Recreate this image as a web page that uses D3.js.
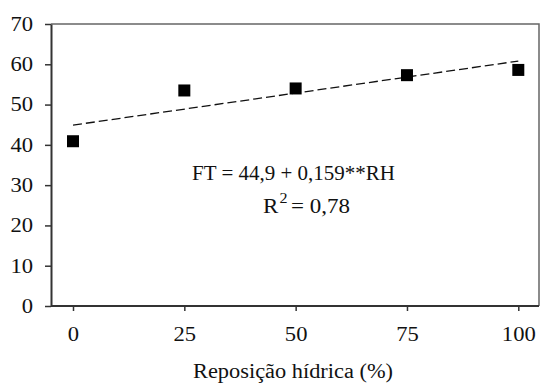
<!DOCTYPE html>
<html>
<head>
<meta charset="utf-8">
<script src="https://cdn.jsdelivr.net/npm/d3@7"></script>
<style>
  body { margin: 0; background: #fff; }
  svg text { font-family: "Liberation Serif", "Times New Roman", serif; fill: #111; }
</style>
</head>
<body>
<div id="chart"></div>
<script>
// reposição hídrica (%) and measured FT values
const rh = [0, 25, 50, 75, 100];
const ft = [40.9, 53.5, 54.0, 57.3, 58.6];
const xTicks = [0, 25, 50, 75, 100];
const yTicks = [0, 10, 20, 30, 40, 50, 60, 70];
// fitted line FT = 44.9 + 0.159*RH
const fitA = 44.9;
const fitB = 0.159;

const W = 540, H = 383;
const svg = d3.select('#chart').append('svg')
  .attr('width', W)
  .attr('height', H);

const x = d3.scaleLinear().domain([0, 100]).range([73, 518.3]);
const y = d3.scaleLinear().domain([0, 70]).range([306, 24]);

// the original text is a bit wide, stretch it horizontally
const digitW = 11.3;
function stretch(sel) {
  sel.attr('textLength', d => String(d).length * digitW)
    .attr('lengthAdjust', 'spacingAndGlyphs');
}

// frame (top and right, thin gray)
svg.append('path')
  .attr('d', `M51,${y(70)}H539V${y(0)}`)
  .attr('fill', 'none')
  .attr('stroke', '#666')
  .attr('stroke-width', 1.5);

// y axis
const yAxis = svg.append('g')
  .attr('transform', 'translate(51,0)')
  .call(d3.axisLeft(y).tickValues(yTicks).tickSize(6).tickPadding(12).tickSizeOuter(0));
yAxis.select('.domain').attr('stroke', '#333').attr('stroke-width', 2);
yAxis.selectAll('.tick line').attr('stroke', '#333').attr('stroke-width', 1.5);
yAxis.selectAll('text').style('font-size', '20px').attr('fill', '#111').call(stretch);

// x axis
const xAxis = svg.append('g')
  .attr('transform', `translate(0,${y(0)})`)
  .call(d3.axisBottom(x).tickValues(xTicks).tickSize(5).tickPadding(16).tickSizeOuter(0));
xAxis.select('.domain').attr('d', `M51,0H539`).attr('stroke', '#333').attr('stroke-width', 2);
xAxis.selectAll('.tick line').attr('stroke', '#333').attr('stroke-width', 1.5);
xAxis.selectAll('text').style('font-size', '20px').attr('fill', '#111').call(stretch);

// trend line
svg.append('line')
  .attr('x1', x(0)).attr('y1', y(fitA))
  .attr('x2', x(100)).attr('y2', y(fitA + fitB * 100))
  .attr('stroke', '#111')
  .attr('stroke-width', 1.3)
  .attr('stroke-dasharray', '9,4');

// markers
const s = 12;
svg.selectAll('.pt')
  .data(rh.map((d, i) => [d, ft[i]]))
  .enter().append('rect')
  .attr('class', 'pt')
  .attr('x', d => x(d[0]) - s / 2)
  .attr('y', d => y(d[1]) - s / 2)
  .attr('width', s)
  .attr('height', s)
  .attr('fill', '#000');

// equation
svg.append('text')
  .attr('x', 192).attr('y', 180)
  .style('font-size', '20px')
  .attr('textLength', 203)
  .attr('lengthAdjust', 'spacingAndGlyphs')
  .text('FT = 44,9 + 0,159**RH');

const r2 = svg.append('text')
  .attr('transform', 'translate(263,213) scale(1.15,1)')
  .style('font-size', '20px');
r2.append('tspan').text('R');
r2.append('tspan').attr('dx', 1).attr('dy', -10).style('font-size', '14px').text('2');
r2.append('tspan').attr('dx', 3).attr('dy', 10).text('= 0,78');

// axis title
svg.append('text')
  .attr('x', 193).attr('y', 378)
  .style('font-size', '20px')
  .attr('textLength', 200)
  .attr('lengthAdjust', 'spacingAndGlyphs')
  .text('Reposição hídrica (%)');
</script>
</body>
</html>
